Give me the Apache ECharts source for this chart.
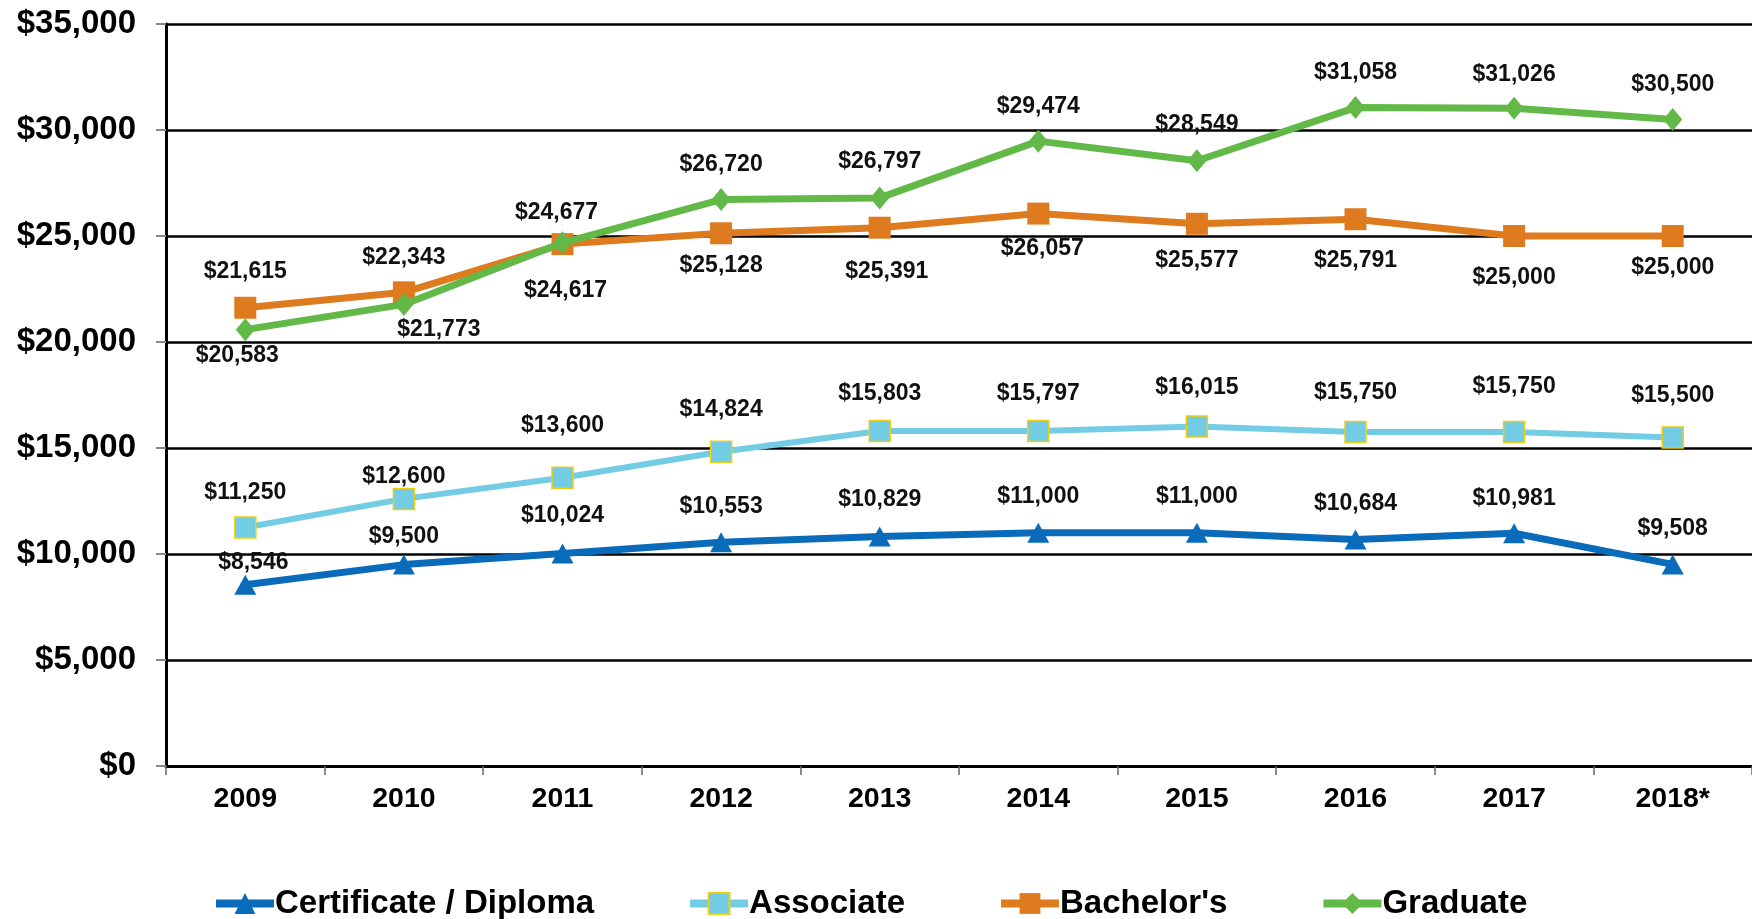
<!DOCTYPE html>
<html>
<head>
<meta charset="utf-8">
<script src="https://cdn.jsdelivr.net/npm/echarts@6/dist/echarts.min.js"></script>
<style>
  html, body { margin: 0; padding: 0; background: #fff; }
  #main { width: 1752px; height: 919px; }
</style>
</head>
<body>
<div id="main"></div>
<script>
var years = ['2009', '2010', '2011', '2012', '2013', '2014', '2015', '2016', '2017', '2018*'];
var certificate = [8546, 9500, 10024, 10553, 10829, 11000, 11000, 10684, 10981, 9508];
var associate = [11250, 12600, 13600, 14824, 15803, 15797, 16015, 15750, 15750, 15500];
var bachelors = [21615, 22343, 24617, 25128, 25391, 26057, 25577, 25791, 25000, 25000];
var graduate = [20583, 21773, 24677, 26720, 26797, 29474, 28549, 31058, 31026, 30500];

// label offsets (px) from each point
var certOffsets = [[8, -22], [0, -28], [0, -38], [0, -36], [0, -37], [0, -36], [0, -36], [0, -36], [0, -35], [0, -36]];
var assocOffsets = [[0, -35], [0, -22], [0, -52], [0, -42], [0, -37], [0, -37], [0, -39], [0, -39], [0, -45], [0, -42]];
var bachOffsets = [[0, -36], [0, -35], [3, 47], [0, 32], [7, 44], [4, 35], [0, 37], [0, 41], [0, 42], [0, 32]];
var gradOffsets = [[-8, 26], [35, 25], [-6, -30], [0, -35], [0, -36], [0, -34], [0, -36], [0, -35], [0, -34], [0, -35]];

function money(v) {
    return '$' + v.toString().replace(/\B(?=(\d{3})+(?!\d))/g, ',');
}

function buildData(values, offsets) {
    var out = [];
    for (var i = 0; i < values.length; i++) {
        out.push({ value: values[i], label: { offset: offsets[i] } });
    }
    return out;
}

var labelStyle = {
    show: true,
    position: 'inside',
    fontFamily: 'Liberation Sans',
    fontWeight: 'bold',
    fontSize: 23,
    color: '#111',
    formatter: function (p) { return money(p.value); }
};

var myChart = echarts.init(document.getElementById('main'));
myChart.setOption({
    animation: false,
    textStyle: { fontFamily: 'Liberation Sans' },
    grid: { left: 166, right: 0, top: 24, bottom: 153 },
    legend: {
        left: 207,
        top: 882,
        itemWidth: 58,
        itemHeight: 26,
        itemGap: 92,
        lineStyle: { width: 8 },
        textStyle: { fontSize: 33, fontWeight: 'bold', color: '#000', fontFamily: 'Liberation Sans', padding: [0, 0, 0, -4] },
        data: ['Certificate / Diploma', 'Associate', "Bachelor's", 'Graduate']
    },
    xAxis: {
        type: 'category',
        data: years,
        boundaryGap: true,
        axisLine: { lineStyle: { color: '#000', width: 3 } },
        axisTick: { show: true, length: 9, lineStyle: { color: '#666', width: 1.5 } },
        axisLabel: { fontSize: 28.5, fontWeight: 'bold', color: '#000', margin: 19 }
    },
    yAxis: {
        type: 'value',
        min: 0,
        max: 35000,
        interval: 5000,
        axisLine: { show: true, lineStyle: { color: '#000', width: 3 } },
        axisTick: { show: true, length: 10, lineStyle: { color: '#888', width: 2 } },
        splitLine: { lineStyle: { color: '#000', width: 2.5 } },
        axisLabel: {
            fontSize: 33, fontWeight: 'bold', color: '#000', margin: 30,
            formatter: function (v) { return money(v); }
        }
    },
    series: [{
        name: 'Certificate / Diploma',
        type: 'line',
        symbol: 'triangle',
        symbolSize: [22, 20],
        lineStyle: { color: '#0A6BBB', width: 7 },
        itemStyle: { color: '#0A6BBB' },
        label: labelStyle,
        data: buildData(certificate, certOffsets),
        z: 4
    }, {
        name: 'Associate',
        type: 'line',
        symbol: 'rect',
        symbolSize: 21,
        lineStyle: { color: '#72CCE3', width: 6 },
        itemStyle: { color: '#72CCE3', borderColor: '#F2CC0C', borderWidth: 1.5 },
        label: labelStyle,
        data: buildData(associate, assocOffsets),
        z: 3
    }, {
        name: "Bachelor's",
        type: 'line',
        symbol: 'rect',
        symbolSize: 22,
        lineStyle: { color: '#DE7B1E', width: 7 },
        itemStyle: { color: '#DE7B1E' },
        label: labelStyle,
        data: buildData(bachelors, bachOffsets),
        z: 2
    }, {
        name: 'Graduate',
        type: 'line',
        symbol: 'diamond',
        symbolSize: [19, 23],
        lineStyle: { color: '#62B947', width: 7 },
        itemStyle: { color: '#62B947' },
        label: labelStyle,
        data: buildData(graduate, gradOffsets),
        z: 5
    }]
});
</script>
</body>
</html>
